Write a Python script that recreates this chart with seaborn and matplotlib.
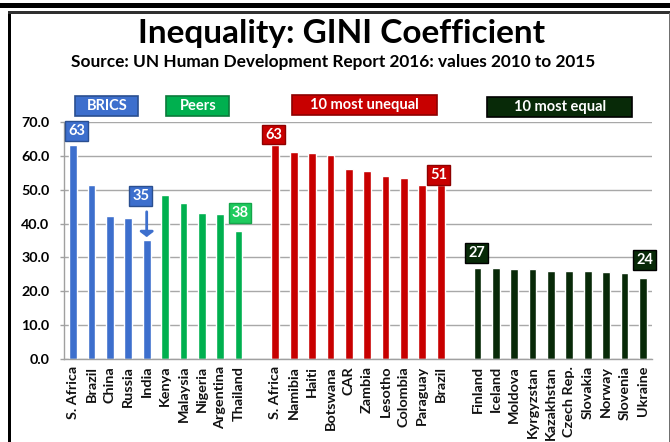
import matplotlib
matplotlib.use("Agg")
import matplotlib.pyplot as plt
import seaborn as sns
import pandas as pd
from matplotlib.patches import Rectangle, FancyArrowPatch

# ---------------- data ----------------
brics = ["S. Africa", "Brazil", "China", "Russia", "India"]
brics_vals = [63.3, 51.4, 42.2, 41.5, 35.2]
peers = ["Kenya", "Malaysia", "Nigeria", "Argentina", "Thailand"]
peers_vals = [48.5, 46.2, 43.0, 42.7, 37.8]
unequal = ["S. Africa", "Namibia", "Haiti", "Botswana", "CAR", "Zambia",
           "Lesotho", "Colombia", "Paraguay", "Brazil"]
unequal_vals = [63.3, 61.0, 60.7, 60.3, 56.1, 55.6, 54.0, 53.5, 51.5, 51.4]
equal = ["Finland", "Iceland", "Moldova", "Kyrgyzstan", "Kazakhstan",
         "Czech Rep.", "Slovakia", "Norway", "Slovenia", "Ukraine"]
equal_vals = [26.9, 26.8, 26.5, 26.5, 26.1, 26.1, 26.1, 25.8, 25.5, 24.0]
group_names = ["BRICS", "Peers", "10 most unequal", "10 most equal"]
y_ticks = [0, 10, 20, 30, 40, 50, 60, 70]

title = "Inequality: GINI Coefficient"
subtitle = "Source: UN Human Development Report 2016: values 2010 to 2015"

# ---------------- styling ----------------
BLUE = "#3D6FCD"
GREEN = "#00B04F"
LIGHTGREEN = "#1FCB5E"
RED = "#C80000"
DARK = "#082A08"
colors = {"BRICS": BLUE, "Peers": GREEN, "10 most unequal": RED, "10 most equal": DARK}
edges = {"BRICS": "#2A4F90", "Peers": "#0B7A3B", "10 most unequal": "#8E0000", "10 most equal": "#000000"}

sns.set_theme(style="white")
plt.rcParams["font.family"] = ["Lato", "DejaVu Sans"]

# build table with gap slots
rows, order, labels = [], [], []
blocks = [(brics, brics_vals, "BRICS"), (peers, peers_vals, "Peers"), None,
          (unequal, unequal_vals, "10 most unequal"), None,
          (equal, equal_vals, "10 most equal")]
for b in blocks:
    if b is None:
        k = f"gap{len(order)}"
        order.append(k)
        labels.append("")
        continue
    names, vals, g = b
    for n, v in zip(names, vals):
        k = f"{len(order)}_{n}"
        rows.append({"key": k, "value": v, "group": g})
        order.append(k)
        labels.append(n)
df = pd.DataFrame(rows)
pos = {r["key"]: order.index(r["key"]) for r in rows}

fig = plt.figure(figsize=(6.7, 4.42), dpi=100)
W, H = 670, 442
ax = fig.add_axes([64 / W, 83 / H, 588 / W, 237 / H])

sns.barplot(data=df, x="key", y="value", hue="group", order=order,
            hue_order=group_names, palette=colors, width=0.42, dodge=False,
            saturation=1, legend=False, ax=ax)

ax.set_xlim(-0.5, len(order) - 0.5)
ax.set_ylim(0, 70)
ax.set_xlabel("")
ax.set_ylabel("")
ax.set_yticks(y_ticks)
ax.set_yticklabels([f"{t:.1f}" for t in y_ticks], fontweight="bold",
                   fontsize=10.3, color="black")
ax.yaxis.grid(True, color="#A8A8A8", linewidth=1)
ax.set_axisbelow(True)
ax.set_xticks(range(len(order)))
ax.set_xticklabels(labels, rotation=90, fontsize=10.4, color="#111111",
                   fontweight="bold")
ax.set_xticks([i - 0.5 for i in range(len(order) + 1)], minor=True)
ax.tick_params(axis="x", which="major", length=0, pad=5)
ax.tick_params(axis="x", which="minor", length=4, color="#A0A0A0", width=1,
               direction="out")
ax.tick_params(axis="y", length=3, color="#A0A0A0", width=1, pad=7.5, left=True)
for s in ["top", "right"]:
    ax.spines[s].set_visible(False)
for s in ["left", "bottom"]:
    ax.spines[s].set_color("#A0A0A0")
    ax.spines[s].set_linewidth(1)

# value boxes
val_of = dict(zip(df["key"], df["value"]))


def vbox(key, dx, dy, fc, ec):
    x = pos[key]
    v = val_of[key]
    ax.text(x + dx, v + dy, f"{round(v)}", ha="center", va="center",
            color="white", fontsize=10.5, fontweight="bold",
            bbox=dict(boxstyle="square,pad=0.2", fc=fc, ec=ec, lw=1),
            clip_on=False, zorder=5)


keys = list(df["key"])
k_sa = keys[0]
k_india = keys[4]
k_thai = keys[9]
k_usa = keys[10]
k_ubr = keys[19]
k_fin = keys[20]
k_ukr = keys[29]
vbox(k_sa, 0.2, 4.1, BLUE, edges["BRICS"])
vbox(k_india, -0.33, 12.9, BLUE, edges["BRICS"])
vbox(k_thai, 0.08, 5.3, LIGHTGREEN, "#14A54A")
vbox(k_usa, -0.08, 3.0, RED, edges["10 most unequal"])
vbox(k_ubr, -0.1, 2.9, RED, edges["10 most unequal"])
vbox(k_fin, -0.04, 4.4, DARK, "#000000")
vbox(k_ukr, 0.1, 5.2, DARK, "#000000")

# India arrow
xi = pos[k_india]
arr = FancyArrowPatch((xi, val_of[k_india] + 9.1), (xi, val_of[k_india]),
                      arrowstyle="-|>,head_width=4,head_length=3",
                      color=BLUE, lw=2, mutation_scale=1, zorder=6)
ax.add_patch(arr)

# group header boxes (slot-centred, drawn in data coords)
slot_w = 588 / len(order)
unit_h = 237 / 70
headers = [("BRICS", 1.83, 74.7, 63), ("Peers", 6.78, 74.7, 63),
           ("10 most unequal", 15.84, 74.9, 145), ("10 most equal", 26.47, 74.4, 145)]
for g, cx, cy, wpx in headers:
    w = wpx / slot_w
    h = 20 / unit_h
    ax.add_patch(Rectangle((cx - w / 2, cy - h / 2), w, h, fc=colors[g],
                           ec=edges[g], lw=1.2, clip_on=False, zorder=5))
    ax.text(cx, cy, g, ha="center", va="center", color="white",
            fontsize=10.5, fontweight="bold", zorder=6, clip_on=False)

# titles
fig.text(342 / W, 1 - 33 / H, title, ha="center", va="center",
         fontsize=24, fontweight="bold", color="black")
fig.text(333 / W, 1 - 62 / H, subtitle, ha="center", va="center",
         fontsize=12.4, fontweight="bold", color="black")

# frame
fig.add_artist(Rectangle((0, 1 - 7.5 / H), 1, 4.5 / H, transform=fig.transFigure,
                         fc="black", ec="none"))
fig.add_artist(Rectangle((8 / W, 0), 3 / W, 1 - 11 / H, transform=fig.transFigure,
                         fc="black", ec="none"))
fig.add_artist(Rectangle((8 / W, 1 - 13.5 / H), 1, 2.5 / H, transform=fig.transFigure,
                         fc="#303030", ec="none"))
fig.add_artist(Rectangle((668.5 / W, 0), 1.2 / W, 1 - 13 / H, transform=fig.transFigure,
                         fc="#707070", ec="none"))

fig.savefig("out.png", dpi=100)
